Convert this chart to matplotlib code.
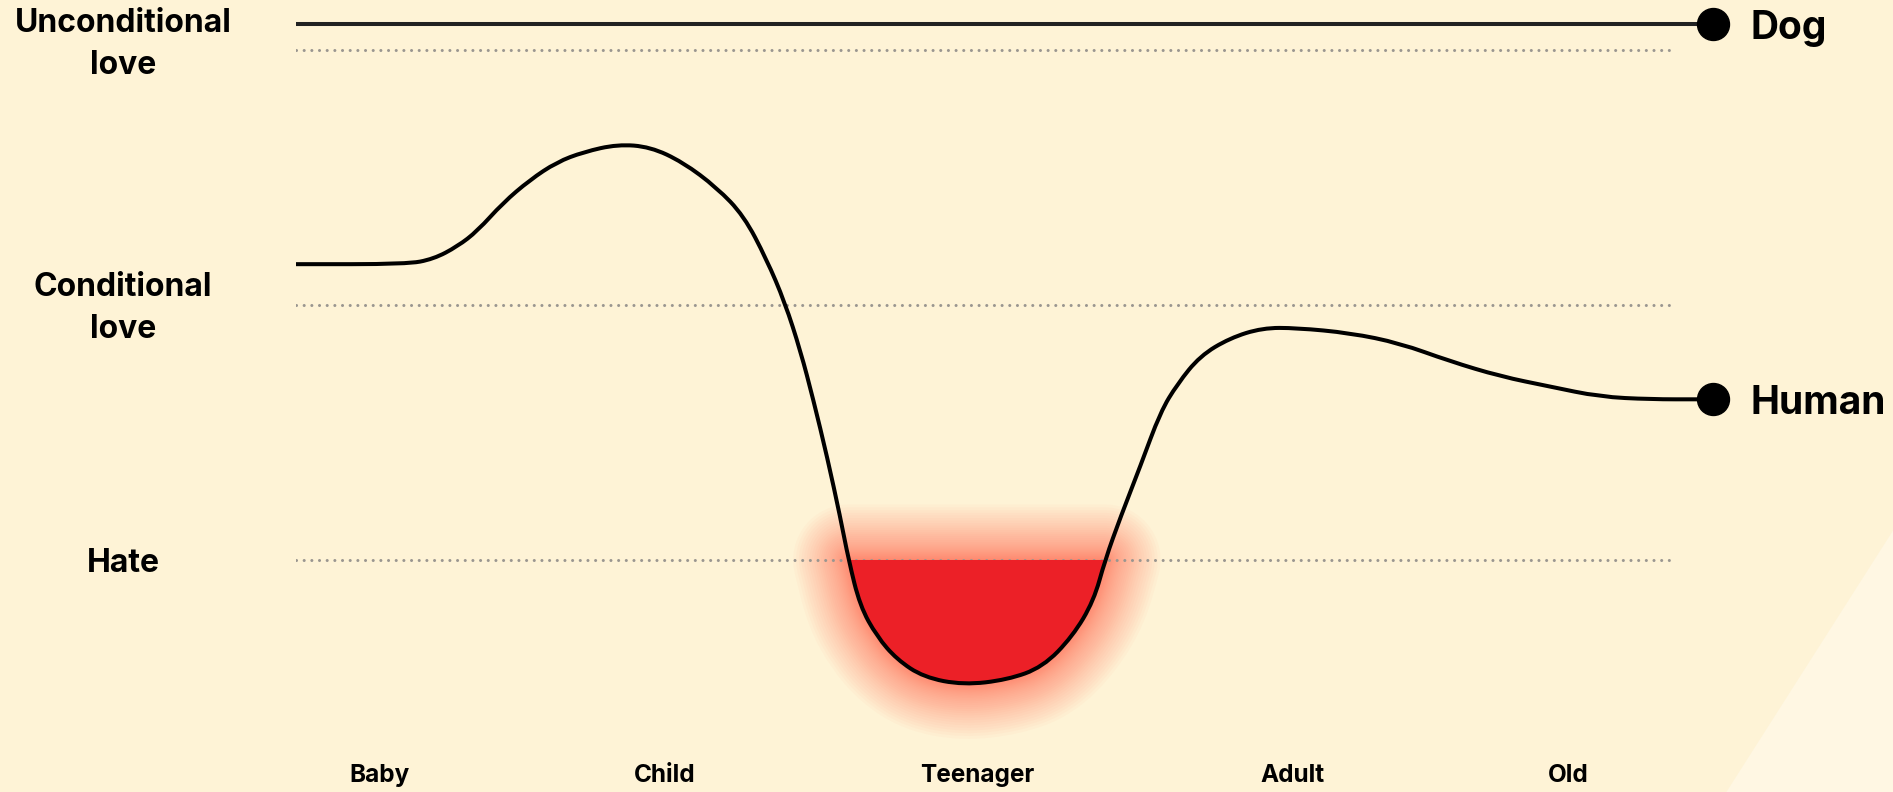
import numpy as np
import matplotlib
matplotlib.use('Agg')
import matplotlib.pyplot as plt
from matplotlib.patches import Polygon, PathPatch, Rectangle
from matplotlib.path import Path

# datos (x = % de la vida, y = nivel de amor)
life_x = [0, 7.8, 9.7, 11.4, 12.8, 14.6, 16.5, 18.4, 20.3, 22.7,
          25.0, 27.3, 29.7, 31.6, 33.2, 34.5, 35.6, 36.5, 37.5, 38.4,
          39.0, 39.8, 41.0, 42.4, 44.3, 47.1, 50.2, 52.7, 54.8, 56.3,
          57.1, 58.2, 59.6, 61.0, 62.2, 63.8, 65.9, 68.2, 70.6, 74.4,
          77.9, 81.4, 85.0, 88.5, 92.0, 95.6, 99.1, 100]
human_y = [1.16, 1.16, 1.18, 1.23, 1.29, 1.40, 1.49, 1.56, 1.60, 1.63,
           1.62, 1.56, 1.46, 1.35, 1.18, 1.01, 0.82, 0.63, 0.40, 0.17,
           0.0, -0.18, -0.30, -0.39, -0.46, -0.49, -0.47, -0.42, -0.30, -0.16,
           0.0, 0.17, 0.37, 0.58, 0.69, 0.80, 0.87, 0.91, 0.91, 0.89,
           0.85, 0.78, 0.72, 0.68, 0.64, 0.63, 0.63, 0.63]
dog_y = 2.1

levels = [2, 1, 0]
level_labels = ['Unconditional\nlove', 'Conditional\nlove', 'Hate']

stages = ['Baby', 'Child', 'Teenager', 'Adult', 'Old']
stage_x = [5.9, 26.0, 48.1, 70.3, 89.8]

FONT = ['Inter', 'DejaVu Sans']
bg = '#fef3d6'


# curva suave: los puntos leidos como control de beziers cuadraticas
def smooth_path(px, py, close=False):
    pts = np.column_stack([px, py])
    verts = [pts[0], (pts[0] + pts[1]) / 2]
    codes = [Path.MOVETO, Path.LINETO]
    for i in range(1, len(pts) - 1):
        verts += [pts[i], (pts[i] + pts[i + 1]) / 2]
        codes += [Path.CURVE3, Path.CURVE3]
    verts.append(pts[-1])
    codes.append(Path.LINETO)
    if close:
        verts.append(pts[0])
        codes.append(Path.CLOSEPOLY)
    return Path(verts, codes)


fig = plt.figure(figsize=(18.93, 7.92), dpi=100, facecolor=bg)

# triangulo claro abajo a la derecha
fig.patches.append(Polygon([[0.912, 0.0], [1.0, 0.33], [1.0, 0.0]], closed=True,
                           transform=fig.transFigure, facecolor='#fff7e3',
                           edgecolor='none', zorder=0))

ax = fig.add_axes([296 / 1893, 0, 1417 / 1893, 1])
ax.set_xlim(0, 100)
ax.set_ylim(-0.91, 2.196)
ax.axis('off')

x = np.array(life_x)
y = np.array(human_y)

# lineas punteadas de referencia
for lv in levels:
    ax.plot([0, 97.2], [lv, lv], color='#9a9690', lw=2.2,
            linestyle=(0, (0.01, 2.5)), dash_capstyle='round', zorder=2)

# brillo rojo alrededor de la zona de odio (capas mas densas cerca del borde)
neg = (x >= 39.0) & (x <= 57.1)
valley = smooth_path(x[neg], y[neg], close=True)
for t in np.linspace(1, 0.04, 34):
    ax.add_patch(PathPatch(valley, facecolor='none', edgecolor='#ff5038',
                           alpha=0.026, lw=80 * t ** 1.8, joinstyle='round',
                           zorder=1))

# relleno rojo bajo la linea de odio
fill = PathPatch(smooth_path(x, y, close=True), facecolor='#ec2027',
                 edgecolor='none', zorder=3)
ax.add_patch(fill)
fill.set_clip_path(Rectangle((-10, -5), 120, 5, transform=ax.transData))

# humano
ax.add_patch(PathPatch(smooth_path(x, y), facecolor='none', edgecolor='black',
                       lw=2.9, capstyle='round', zorder=4))
ax.plot([x[-1]], [y[-1]], 'o', color='black', ms=23, zorder=5, clip_on=False)

# perro
ax.plot([0, 100], [dog_y, dog_y], color='#222222', lw=2.9, zorder=4)
ax.plot([100], [dog_y], 'o', color='black', ms=23, zorder=5, clip_on=False)

ax.annotate('Dog', (100, dog_y), xytext=(27, -3), textcoords='offset points',
            fontsize=28, fontweight='bold', family=FONT, va='center', ha='left',
            annotation_clip=False)
ax.annotate('Human', (100, y[-1]), xytext=(27, -3), textcoords='offset points',
            fontsize=28, fontweight='bold', family=FONT, va='center', ha='left',
            annotation_clip=False)

# etiquetas del eje y
for i, (lv, lab) in enumerate(zip(levels, level_labels)):
    off = 0.02 if i == 0 else -0.015
    ax.text(-12.2, lv + off, lab, fontsize=23, fontweight='bold', family=FONT,
            ha='center', va='center', multialignment='center', linespacing=1.45,
            clip_on=False)

# etapas de la vida
for sx, s in zip(stage_x, stages):
    ax.text(sx, -0.845, s, fontsize=17.5, fontweight='bold', family=FONT,
            ha='center', va='center')

fig.savefig('out.png', dpi=100, facecolor=bg)
